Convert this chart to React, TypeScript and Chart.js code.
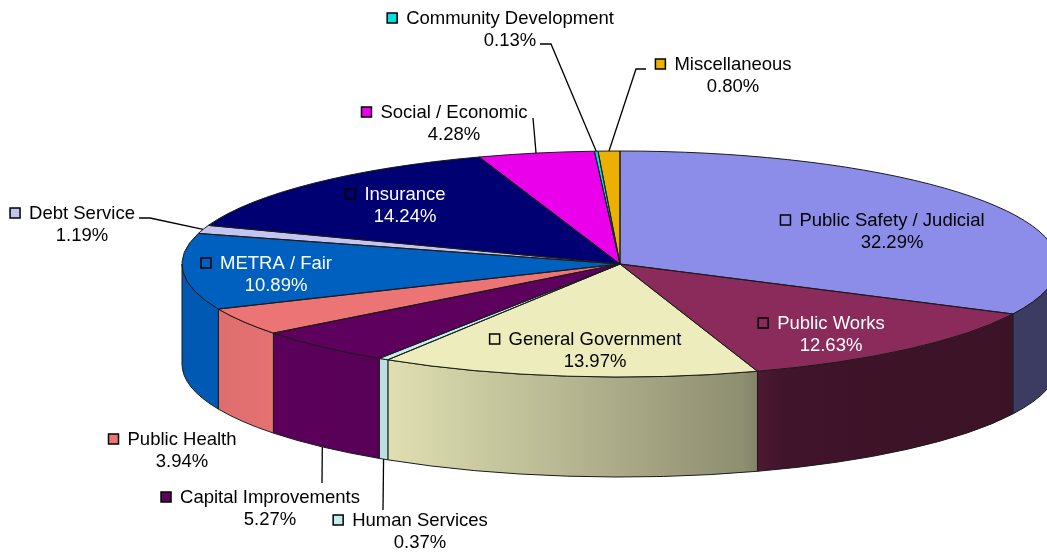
import React, { useEffect, useRef } from 'react';
import { Chart, registerables } from 'chart.js';

Chart.register(...registerables);

// ---- data ----
const categories = [
  'Public Safety / Judicial',
  'Public Works',
  'General Government',
  'Human Services',
  'Capital Improvements',
  'Public Health',
  'METRA / Fair',
  'Debt Service',
  'Insurance',
  'Social / Economic',
  'Community Development',
  'Miscellaneous',
];
const shares = [32.29, 12.63, 13.97, 0.37, 5.27, 3.94, 10.89, 1.19, 14.24, 4.28, 0.13, 0.8];
const percentLabels = ['32.29%', '12.63%', '13.97%', '0.37%', '5.27%', '3.94%', '10.89%', '1.19%', '14.24%', '4.28%', '0.13%', '0.80%'];

// ---- styles ----
const sliceColors = [
  '#8c8ce9', '#8b2b5b', '#ececbc', '#c4eeee', '#5e005e', '#ec7474',
  '#0060c0', '#c4c4f0', '#000072', '#ea00ea', '#00e0e0', '#ecb000',
];

// label layout: name centre x, first line y, text colour, leader elbow points (from label toward pie)
const labelLayout: { x: number; y: number; color: string; leader?: number[][] }[] = [
  { x: 892, y: 220, color: '#000' },
  { x: 831, y: 323, color: '#fff' },
  { x: 595, y: 339, color: '#000' },
  { x: 420, y: 520, color: '#000', leader: [[383, 510]] },
  { x: 270, y: 497, color: '#000', leader: [[322, 483]] },
  { x: 182, y: 439, color: '#000' },
  { x: 276, y: 263, color: '#fff' },
  { x: 82, y: 213, color: '#000', leader: [[139, 218], [150, 218]] },
  { x: 405, y: 194, color: '#fff' },
  { x: 454, y: 112, color: '#000', leader: [[533, 118]] },
  { x: 510, y: 18, color: '#000', leader: [[540, 44], [551, 44]] },
  { x: 733, y: 64, color: '#000', leader: [[646, 69], [636, 69]] },
];

const CX = 620, CY = 264, RX = 438, RY = 113, DEPTH = 100;
const FONT = '18.5px "Liberation Sans", Arial, sans-serif';
const LINE_H = 21.5;
const shadeStops = [[0, 0.92], [0.1, 0.97], [0.24, 0.94], [0.64, 0.6], [0.69, 0.46], [1, 0.42]];

function shade(hex: string, f: number) {
  const n = parseInt(hex.slice(1), 16);
  const r = (n >> 16) & 255, g = (n >> 8) & 255, b = n & 255;
  return `rgb(${Math.round(r * f)},${Math.round(g * f)},${Math.round(b * f)})`;
}

const ex = (a: number) => CX + RX * Math.cos(a);
const ey = (a: number) => CY + RY * Math.sin(a);

const pie3d = {
  id: 'pie3d',
  beforeDatasetsDraw(chart: any) {
    const ctx: CanvasRenderingContext2D = chart.ctx;
    const arcs = chart.getDatasetMeta(0).data;
    if (!arcs.length) return;
    // front sides
    arcs.forEach((arc: any, i: number) => {
      const { startAngle, endAngle } = arc.getProps(['startAngle', 'endAngle'], true);
      const a1 = Math.max(startAngle, 0);
      const a2 = Math.min(endAngle, Math.PI);
      if (a2 <= a1) return;
      const grad = ctx.createLinearGradient(CX - RX, 0, CX + RX, 0);
      shadeStops.forEach(([u, f]) => grad.addColorStop(u, shade(sliceColors[i], f)));
      ctx.beginPath();
      ctx.moveTo(ex(a1), ey(a1));
      ctx.ellipse(CX, CY, RX, RY, 0, a1, a2, false);
      ctx.lineTo(ex(a2), ey(a2) + DEPTH);
      ctx.ellipse(CX, CY + DEPTH, RX, RY, 0, a2, a1, true);
      ctx.closePath();
      ctx.fillStyle = grad;
      ctx.fill();
      ctx.lineWidth = 1;
      ctx.strokeStyle = '#1a1a1a';
      ctx.stroke();
    });
    const { x, y, outerRadius } = arcs[0].getProps(['x', 'y', 'outerRadius'], true);
    ctx.save();
    ctx.translate(CX, CY);
    ctx.scale(RX / outerRadius, RY / outerRadius);
    ctx.translate(-x, -y);
  },
  afterDatasetsDraw(chart: any) {
    const ctx: CanvasRenderingContext2D = chart.ctx;
    const arcs = chart.getDatasetMeta(0).data;
    if (!arcs.length) return;
    ctx.restore();
    // outlines of top surface
    ctx.lineWidth = 1;
    ctx.strokeStyle = '#1a1a1a';
    arcs.forEach((arc: any) => {
      const { startAngle, endAngle } = arc.getProps(['startAngle', 'endAngle'], true);
      ctx.beginPath();
      ctx.moveTo(CX, CY);
      ctx.lineTo(ex(startAngle), ey(startAngle));
      ctx.ellipse(CX, CY, RX, RY, 0, startAngle, endAngle, false);
      ctx.closePath();
      ctx.stroke();
    });
    // leader lines
    ctx.lineWidth = 1.3;
    ctx.strokeStyle = '#000';
    arcs.forEach((arc: any, i: number) => {
      const lay = labelLayout[i];
      if (!lay.leader) return;
      const { startAngle, endAngle } = arc.getProps(['startAngle', 'endAngle'], true);
      const mid = (startAngle + endAngle) / 2;
      const px = ex(mid);
      const py = ey(mid) + (Math.sin(mid) > 0 ? DEPTH : 0);
      ctx.beginPath();
      lay.leader.forEach(([lx, ly], k) => (k === 0 ? ctx.moveTo(lx, ly) : ctx.lineTo(lx, ly)));
      ctx.lineTo(px, py);
      ctx.stroke();
    });
    // labels
    ctx.font = FONT;
    ctx.textBaseline = 'middle';
    ctx.textAlign = 'center';
    categories.forEach((name, i) => {
      const lay = labelLayout[i];
      const w = ctx.measureText(name).width;
      const left = lay.x - w / 2;
      ctx.fillStyle = sliceColors[i];
      ctx.fillRect(left - 19, lay.y - 5, 10, 10);
      ctx.lineWidth = 1.5;
      ctx.strokeStyle = '#000';
      ctx.strokeRect(left - 19, lay.y - 5, 10, 10);
      ctx.fillStyle = lay.color;
      ctx.fillText(name, lay.x, lay.y + 1);
      ctx.fillText(percentLabels[i], lay.x, lay.y + LINE_H + 1);
    });
  },
};

export default function App() {
  const ref = useRef<HTMLCanvasElement>(null);
  useEffect(() => {
    document.body.style.margin = '0';
    const chart = new Chart(ref.current as HTMLCanvasElement, {
      type: 'pie',
      data: {
        labels: categories,
        datasets: [
          {
            data: shares,
            backgroundColor: sliceColors,
            borderWidth: 0,
            clip: false as any,
          } as any,
        ],
      },
      options: {
        animation: false,
        responsive: false,
        maintainAspectRatio: false,
        events: [],
        layout: { padding: 0 },
        plugins: { legend: { display: false }, tooltip: { enabled: false } },
      },
      plugins: [pie3d as any],
    });
    return () => chart.destroy();
  }, []);
  return (
    <div style={{ width: 1047, height: 552, background: '#fff' }}>
      <canvas ref={ref} width={1047} height={552} style={{ display: 'block' }} />
    </div>
  );
}
